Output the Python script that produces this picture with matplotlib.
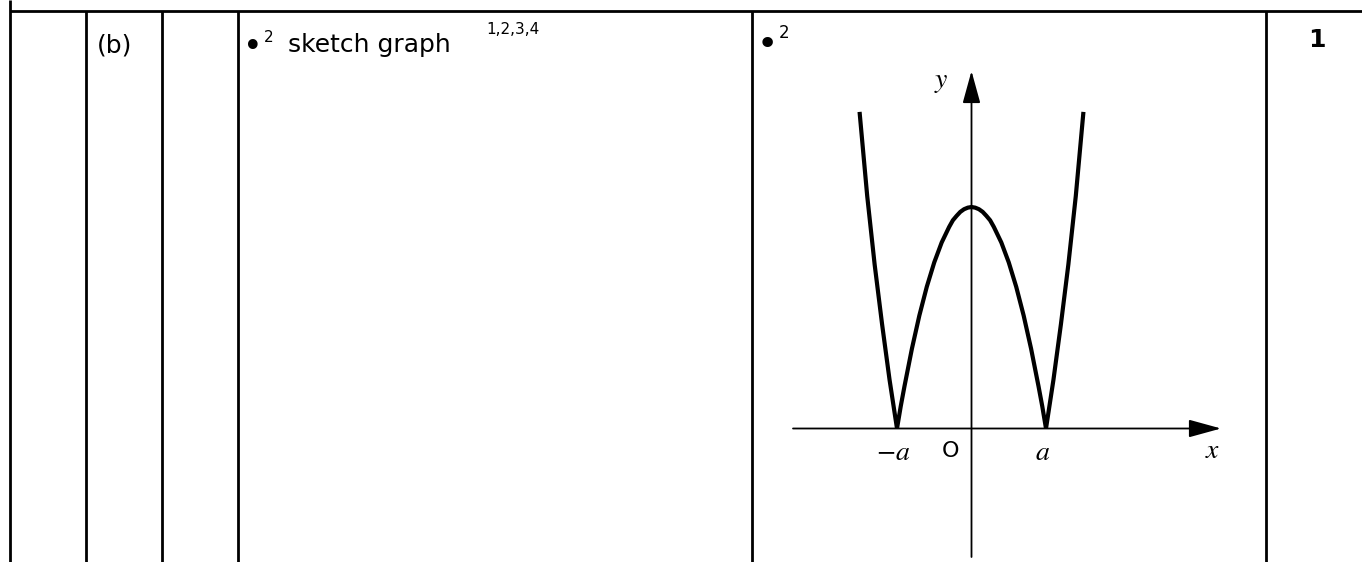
import matplotlib
matplotlib.use("Agg")
import matplotlib.pyplot as plt

plt.rcParams["mathtext.fontset"] = "stix"

# sketch of the graph (x in units of a, y with peak = 1)
curve_x = [-1.50, -1.40, -1.30, -1.20, -1.10, -1.00, -0.95, -0.90, -0.80, -0.70,
           -0.60, -0.50, -0.40, -0.30, -0.25, -0.20, -0.15, -0.10, -0.05, 0.00,
           0.05, 0.10, 0.15, 0.20, 0.25, 0.30, 0.40, 0.50, 0.60, 0.70,
           0.80, 0.90, 0.95, 1.00, 1.10, 1.20, 1.30, 1.40, 1.50]
curve_y = [1.42, 1.05, 0.74, 0.47, 0.22, 0.00, 0.10, 0.19, 0.36, 0.51,
           0.64, 0.75, 0.84, 0.91, 0.94, 0.96, 0.978, 0.99, 0.997, 1.00,
           0.997, 0.99, 0.978, 0.96, 0.94, 0.91, 0.84, 0.75, 0.64, 0.51,
           0.36, 0.19, 0.10, 0.00, 0.22, 0.47, 0.74, 1.05, 1.42]
tick_x = [-1.0, 1.0]
tick_labels = [r"$-a$", r"$a$"]

W, H = 1362, 562
fig = plt.figure(figsize=(W / 100, H / 100), dpi=100)

# table in pixel coordinates
ax = fig.add_axes([0, 0, 1, 1])
ax.set_xlim(0, W)
ax.set_ylim(H, 0)
ax.axis("off")

lw_tab = 2.0
ax.plot([10, 10], [0, H], color="k", lw=lw_tab, solid_capstyle="butt")
ax.plot([10, W], [11, 11], color="k", lw=lw_tab, solid_capstyle="butt")
for xc in [86, 162, 238, 752, 1266]:
    ax.plot([xc, xc], [11, H], color="k", lw=lw_tab, solid_capstyle="butt")

ax.text(115, 52, "(b)", fontsize=18, ha="center", va="baseline")
ax.text(253, 57, "\u2022", fontsize=24, ha="center", va="baseline")
ax.text(264, 42, "2", fontsize=11, ha="left", va="baseline")
ax.text(288, 52, "sketch graph", fontsize=18, ha="left", va="baseline")
ax.text(486, 34, "1,2,3,4", fontsize=11, ha="left", va="baseline")
ax.text(767, 55, "\u2022", fontsize=26, ha="center", va="baseline")
ax.text(779, 38, "2", fontsize=12, ha="left", va="baseline")
ax.text(1317, 47, "1", fontsize=18, fontweight="bold", ha="center", va="baseline")

# graph in data coordinates
ox, ux = 971.5, 74.5
oy, uy = 428.5, 221.5
g = fig.add_axes([0, 0, 1, 1])
g.set_xlim(-ox / ux, (W - ox) / ux)
g.set_ylim(-(H - oy) / uy, oy / uy)
g.axis("off")
g.patch.set_alpha(0)

x0, x1 = (793 - ox) / ux, (1221 - ox) / ux
y0, y1 = (oy - 557) / uy, (oy - 71) / uy
arrow = dict(arrowstyle="-|>,head_length=2.0,head_width=0.55", color="k", lw=1.3,
             shrinkA=0, shrinkB=0, mutation_scale=10)
g.annotate("", xy=(x1, 0), xytext=(x0, 0), arrowprops=arrow)
g.annotate("", xy=(0, y1), xytext=(0, y0), arrowprops=arrow)

g.plot(curve_x, curve_y, color="k", lw=3.0, solid_joinstyle="miter")

for xv, lab in zip(tick_x, tick_labels):
    g.text(xv - 0.05, -32 / uy, lab, ha="center", va="baseline", fontsize=20)
g.text(-21 / ux, -28.5 / uy, "O", fontsize=16, ha="center", va="baseline")
g.text((1213 - ox) / ux, -30 / uy, r"$x$", ha="center", va="baseline", fontsize=20)
g.text((941 - ox) / ux, (oy - 87) / uy, r"$y$", ha="center", va="baseline", fontsize=20)

fig.savefig("out.png", dpi=100)
